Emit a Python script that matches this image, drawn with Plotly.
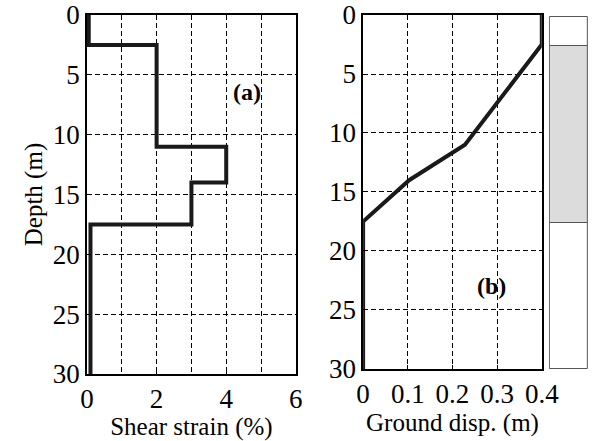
import plotly.graph_objects as go

# Panel (a): shear strain profile (step)
strain_depth = [0, 2.5, 2.5, 11, 11, 14, 14, 17.5, 17.5, 30]
strain_pct = [0.05, 0.05, 2, 2, 4, 4, 3, 3, 0.1, 0.1]

# Panel (b): ground displacement profile
disp_depth = [0, 2.5, 11, 14, 17.5, 30]
disp_m = [0.4, 0.4, 0.228, 0.103, 0, 0]

# Soil column layers
layer_top = [0, 2.5, 17.6]
layer_bottom = [2.5, 17.6, 30]
layer_color = ["white", "#dcdcdc", "white"]

FONT = "Liberation Serif"
FS = 25
TFS = 27

fig = go.Figure()
fig.add_trace(go.Scatter(x=strain_pct, y=strain_depth, mode="lines",
                         line=dict(color="#1a1a1a", width=4), xaxis="x", yaxis="y",
                         showlegend=False))
fig.add_trace(go.Scatter(x=disp_m, y=disp_depth, mode="lines",
                         line=dict(color="#1a1a1a", width=4), xaxis="x2", yaxis="y2",
                         showlegend=False))
fig.add_trace(go.Bar(x=[0] * len(layer_top), base=layer_top,
                     y=[b - t for t, b in zip(layer_top, layer_bottom)],
                     width=1, marker=dict(color=layer_color, line=dict(color="#555555", width=1)),
                     xaxis="x3", yaxis="y3", showlegend=False))

grid = dict(showgrid=True, gridcolor="black", griddash="5px,3px", gridwidth=0.8)
axcommon = dict(showline=True, linecolor="black", linewidth=1.5, mirror=True,
                zeroline=False, ticks="inside", ticklen=4, tickcolor="black",
                automargin=False, ticklabeloverflow="allow",
                tickfont=dict(family=FONT, size=TFS, color="black"), **grid)
tfont = dict(family=FONT, size=FS, color="black")

fig.update_layout(
    width=592, height=441,
    margin=dict(l=87, r=3, t=15, b=67),
    paper_bgcolor="white", plot_bgcolor="white",
    xaxis=dict(domain=[0, 0.416], range=[0, 6], tickvals=[0, 2, 4, 6],
               minor=dict(tickvals=[1, 3, 5], ticks="", **grid),
               title=dict(text="Shear strain (%)", font=tfont, standoff=0),
               **axcommon),
    yaxis=dict(domain=[0, 1], range=[30, 0], tickvals=[0, 5, 10, 15, 20, 25, 30],
               title=dict(text="Depth (m)", font=tfont, standoff=3),
               **axcommon),
    xaxis2=dict(domain=[0.55, 0.906], range=[0, 0.4], tickvals=[0, 0.1, 0.2, 0.3, 0.4],
                anchor="y2",
                title=dict(text="Ground disp. (m)", font=tfont, standoff=0),
                **axcommon),
    yaxis2=dict(domain=[0.014, 1], range=[30, 0], tickvals=[0, 5, 10, 15, 20, 25, 30],
                anchor="x2", **axcommon),
    xaxis3=dict(domain=[0.92, 1.0], range=[-0.53, 0.53], anchor="y3", visible=False,
                automargin=False),
    yaxis3=dict(domain=[0.012, 1.0], range=[30.1, -0.15], anchor="x3", visible=False,
                automargin=False),
    bargap=0,
)

fig.add_annotation(x=4.6, y=6.4, xref="x", yref="y", text="<b>(a)</b>", showarrow=False,
                   font=dict(family=FONT, size=24, color="black"))
fig.add_annotation(x=0.288, y=23, xref="x2", yref="y2", text="<b>(b)</b>", showarrow=False,
                   font=dict(family=FONT, size=24, color="black"))

fig.write_html("out.html")
